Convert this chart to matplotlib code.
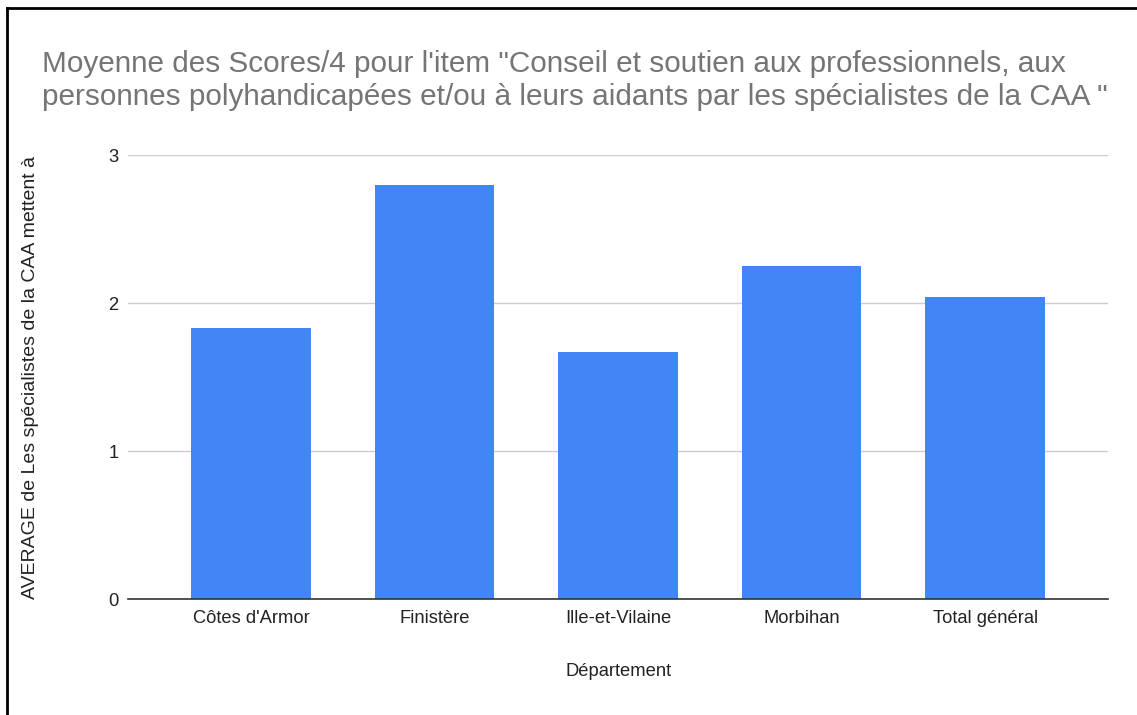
import matplotlib.pyplot as plt
from matplotlib.lines import Line2D

plt.rcParams['font.family'] = ['Liberation Sans', 'DejaVu Sans']

departements = ["Côtes d'Armor", "Finistère", "Ille-et-Vilaine", "Morbihan", "Total général"]
moyennes = [1.83, 2.80, 1.67, 2.25, 2.04]
yticks = [0, 1, 2, 3]

titre = ("Moyenne des Scores/4 pour l'item \"Conseil et soutien aux professionnels, aux\n"
         "personnes polyhandicapées et/ou à leurs aidants par les spécialistes de la CAA \"")

fig = plt.figure(figsize=(11.37, 7.15), dpi=100)
ax = fig.add_axes([0.1126, 0.1622, 0.862, 0.621])

x = range(len(departements))
ax.bar(x, moyennes, width=0.65, color='#4285F4', zorder=3)

ax.set_xlim(-0.67, len(departements) - 1 + 0.67)
ax.set_ylim(0, 3)
ax.set_yticks(yticks)
ax.set_xticks(list(x))
ax.set_xticklabels(departements)
ax.tick_params(axis='both', length=0, labelsize=13.2, colors='#222222')
ax.tick_params(axis='y', pad=7)
ax.tick_params(axis='x', pad=8)
ax.grid(axis='y', color='#cccccc', linewidth=1, zorder=0)
for s in ['top', 'right', 'left']:
    ax.spines[s].set_visible(False)
ax.spines['bottom'].set_color('#333333')
ax.spines['bottom'].set_linewidth(1.2)
ax.spines['bottom'].set_zorder(4)

ax.set_xlabel('Département', fontsize=13.2, color='#222222', labelpad=26)
ax.set_ylabel('AVERAGE de Les spécialistes de la CAA mettent à', fontsize=14,
              color='#222222', labelpad=50)

fig.text(0.037, 0.93, titre, fontsize=21.4, color='#757575', va='top', ha='left',
         linespacing=1.23)

# cadre noir en haut et à gauche
fig.add_artist(Line2D([0.006, 1.0], [0.989, 0.989], color='black', linewidth=2))
fig.add_artist(Line2D([0.006, 0.006], [0.0, 0.989], color='black', linewidth=2))

fig.savefig('out.png', dpi=100)
